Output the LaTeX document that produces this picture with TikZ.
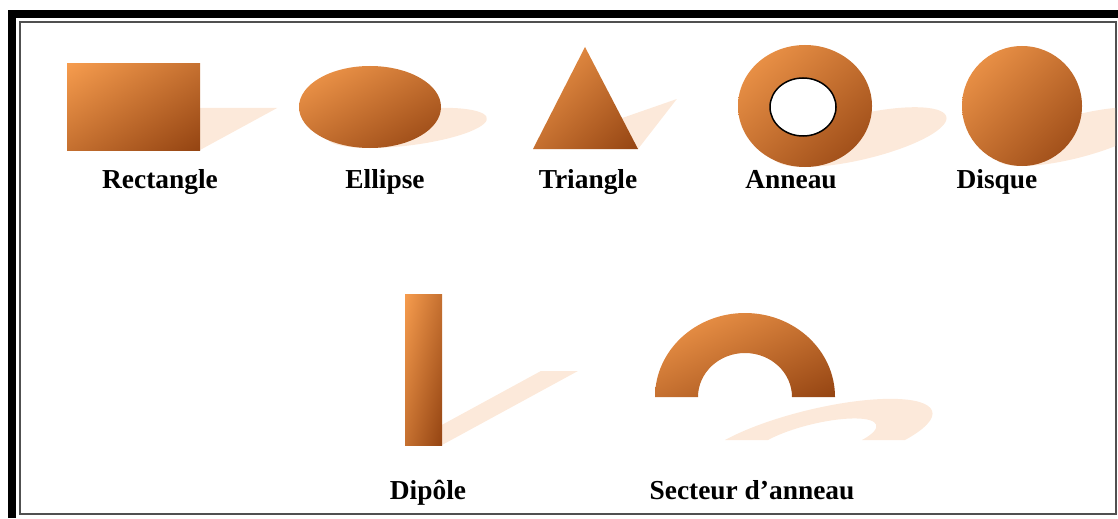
\documentclass[tikz,border=0pt]{standalone}
\usepackage{fontspec}
\setmainfont{Liberation Serif}
\usetikzlibrary{shadings}
\definecolor{formeclair}{RGB}{246,156,78}
\definecolor{formefonce}{RGB}{148,68,18}
\definecolor{ombre}{RGB}{252,233,218}
\definecolor{cadregris}{RGB}{80,80,80}
\tikzset{
	forme/.style={shade,upper left=formeclair,lower right=formefonce,
		upper right=formeclair!50!formefonce,lower left=formeclair!50!formefonce},
	projete/.style={shift={(0,#1)},yscale=0.49,xslant=0.9,shift={(0,-#1)}},
	nom/.style={font=\fontsize{15.6}{18}\selectfont\bfseries,anchor=base,inner sep=0pt}
}
\begin{document}
\begin{tikzpicture}[x=0.02cm,y=0.02cm]
	\useasboundingbox (0,0) rectangle (1118,518);
	% cadre
	\draw[line width=0.16cm] (12,0) -- (12,504) -- (1118,504);
	\draw[line width=0.05cm,color=cadregris] (20,4) rectangle (1116,496);
	\begin{scope}
		\clip (21,5) rectangle (1115,495);
		% ombres
		\fill[ombre,projete=368] (67,368) rectangle (200,454);
		\fill[ombre,projete=370] (370,411) ellipse (71 and 41);
		\fill[ombre,projete=369] (533,369) -- (585,471) -- (638,369) -- cycle;
		\fill[ombre,projete=351] (805,412) ellipse (67 and 61);
		\fill[ombre,projete=352] (1022,412) ellipse (60 and 60);
		\fill[ombre,projete=73] (405,73) rectangle (442,224);
		\fill[ombre,shift={(70,-43)},projete=121] (655,121) arc[start angle=180,end angle=0,x radius=90,y radius=84]
			-- (792,121) arc[start angle=0,end angle=180,x radius=47,y radius=44] -- cycle;
		% formes
		\path[forme] (67,368) rectangle (200,454);
		\path[forme] (370,411) ellipse (71 and 41);
		\path[forme] (533,369) -- (585,471) -- (638,369) -- cycle;
		\path[forme] (805,412) ellipse (67 and 61);
		\draw[fill=white,line width=0.03cm] (803,411) ellipse (33 and 29);
		\path[forme] (1022,412) ellipse (60 and 60);
		\path[forme] (405,73) rectangle (442,224);
		\path[forme] (655,121) arc[start angle=180,end angle=0,x radius=90,y radius=84]
			-- (792,121) arc[start angle=0,end angle=180,x radius=47,y radius=44] -- cycle;
	\end{scope}
	% noms
	\node[nom] (rectangle) at (160,330) {Rectangle};
	\node[nom] (ellipse) at (385,330) {Ellipse};
	\node[nom] (triangle) at (588,330) {Triangle};
	\node[nom] (anneau) at (791,330) {Anneau};
	\node[nom] (disque) at (997,330) {Disque};
	\node[nom] (dipole) at (428,19) {Dipôle};
	\node[nom] (secteur) at (752,19) {Secteur d’anneau};
\end{tikzpicture}
\end{document}
